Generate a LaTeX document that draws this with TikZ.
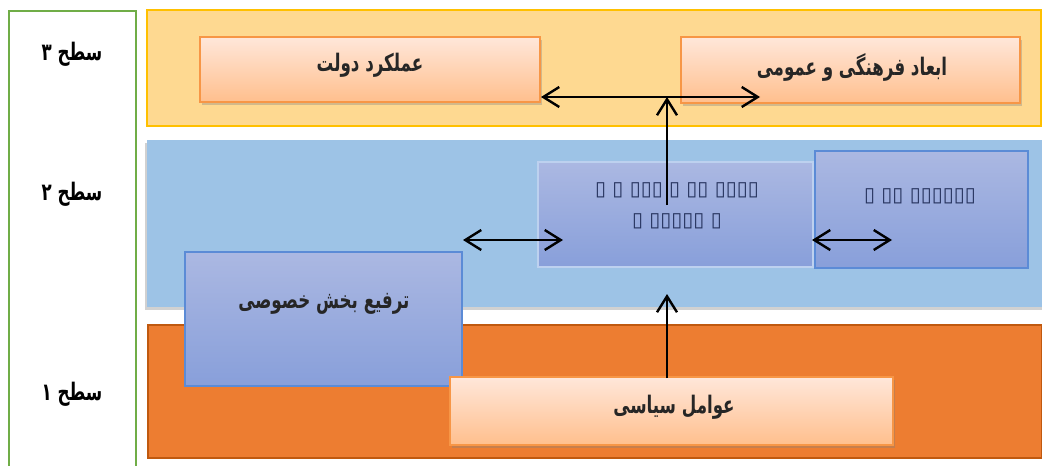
\documentclass[tikz,border=0pt]{standalone}
\usepackage{fontspec}
\usepackage{graphicx}
\setmainfont{DejaVu Sans}
\newfontfamily\arabicfont[Script=Arabic]{DejaVu Sans}
\newfontfamily\symfont{DejaVu Sans}
\TeXXeTstate=1
\usetikzlibrary{arrows.meta,shadows}
\definecolor{bandY}{HTML}{FED991}
\definecolor{bandYb}{HTML}{FFC000}
\definecolor{bandB}{HTML}{9DC3E6}
\definecolor{bandO}{HTML}{ED7D31}
\definecolor{bandOb}{HTML}{C0590F}
\definecolor{frameG}{HTML}{70AD47}
\definecolor{peachT}{HTML}{FFE7DA}
\definecolor{peachB}{HTML}{FFBF8D}
\definecolor{peachL}{HTML}{F79646}
\definecolor{lavT}{HTML}{ABB8E2}
\definecolor{lavB}{HTML}{889FDA}
\definecolor{lavL}{HTML}{5B8BD6}
\definecolor{tofu}{HTML}{26335E}
\newcommand\fatxt[1]{\scalebox{1}[1.45]{\beginR #1\endR}}
\tikzset{
  peachbox/.style={draw=peachL, line width=1.6pt, top color=peachT, bottom color=peachB,
    drop shadow={shadow xshift=1.5pt, shadow yshift=-2pt, opacity=0.35}},
  lavbox/.style={draw=lavL, line width=0.8pt, top color=lavT, bottom color=lavB},
  lbl/.style={font=\arabicfont\bfseries\fontsize{12.5}{15}\selectfont, text=black!85},
  lvl/.style={font=\arabicfont\bfseries\fontsize{12.5}{15}\selectfont, text=black},
  tofutxt/.style={font=\symfont\fontsize{15}{23}\selectfont, text=tofu, align=center},
  dbl/.style={{Straight Barb[length=12pt,width=15pt]}-{Straight Barb[length=12pt,width=15pt]}, line width=1.8pt},
  sgl/.style={-{Straight Barb[length=12pt,width=15pt]}, line width=1.8pt}
}
\begin{document}
\begin{tikzpicture}[x=0.75pt,y=-0.75pt]
\useasboundingbox (0,0) rectangle (1042,465);
\fill[white] (0,0) rectangle (1042,465);
% left frame
\draw[frameG, line width=2.2pt] (9,475) -- (9,11) -- (136,11) -- (136,475);
\node[lvl] (l3) at (72,54) {\fatxt{سطح ۳}};
\node[lvl] (l2) at (72,194) {\fatxt{سطح ۲}};
\node[lvl] (l1) at (72,394) {\fatxt{سطح ۱}};
% bands
\filldraw[fill=bandY, draw=bandYb, line width=0.8pt] (147,10) rectangle (1041,126);
\fill[black, opacity=0.18] (145,143) rectangle (1042,310);
\fill[bandB] (147,140) rectangle (1042,307);
\filldraw[fill=bandO, draw=bandOb, line width=1.8pt] (148,325) rectangle (1042,458);
% boxes
\node[peachbox, minimum width=255pt, minimum height=48.75pt] (gov) at (370,69.5) {};
\node[lbl] (govT) at (370,65) {\fatxt{عملکرد دولت}};
\node[peachbox, minimum width=254.25pt, minimum height=49.5pt] (cult) at (850.5,70) {};
\node[lbl] (cultT) at (852,67) {\fatxt{ابعاد فرهنگی و عمومی}};
\node[lavbox, draw=lavL!40, minimum width=206.25pt, minimum height=78.75pt] (mid) at (675.5,214.5) {};
\node[tofutxt] (midT) at (677,206) {▯ ▯ ▯▯▯ ▯ ▯▯ ▯▯▯▯\\▯ ▯▯▯▯▯ ▯};
\node[lavbox, minimum width=159.75pt, minimum height=87.75pt] (rgt) at (921.5,209.5) {};
\node[tofutxt] (rgtT) at (920,196) {▯ ▯▯ ▯▯▯▯▯▯};
\node[lavbox, minimum width=207.75pt, minimum height=100.5pt] (priv) at (323.5,319) {};
\node[lbl] (privT) at (324,304) {\fatxt{ترفیع بخش خصوصی}};
\node[peachbox, minimum width=332.25pt, minimum height=51pt] (pol) at (671.5,411) {};
\node[lbl] (polT) at (674,407) {\fatxt{عوامل سیاسی}};
% arrows
\coordinate (a1) at (541,97);
\coordinate (a2) at (760,97);
\coordinate (vs) at (667,205);
\coordinate (b1) at (463,240);
\coordinate (b2) at (563,240);
\coordinate (c1) at (812,240);
\coordinate (c2) at (892,240);
\coordinate (ps) at (667,378);
\coordinate (pe) at (667,294);
\draw[dbl] (a1) -- (a2);
\draw[sgl] (vs) -- (vs |- a1);
\draw[dbl] (b1) -- (b2);
\draw[dbl] (c1) -- (c2);
\draw[sgl] (ps) -- (pe);
\end{tikzpicture}
\end{document}
